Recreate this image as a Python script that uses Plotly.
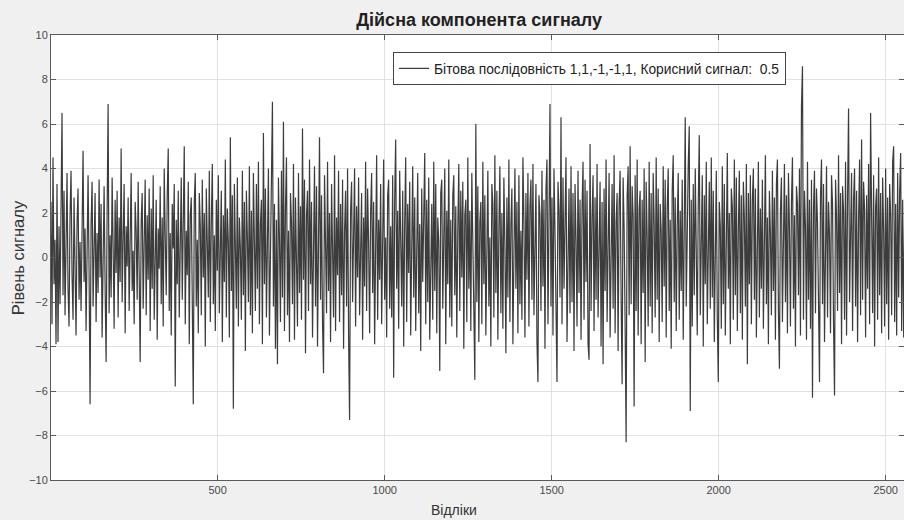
import plotly.graph_objects as go

# Signal level, in tenths, one value every 3 samples
seg_a = [25, -30, 45, -12, 8, -39, 33, -38, 14, -21,
         22, 65, -17, 30, -26, 9, 38, -14, -31, 19,
         39, -8, -28, 27, 4, -35, 16, 31, -19, 7,
         -24, 28, 48, -11, 13, -33, 21, 37, -6, -66,
         15, 34, -22, 6, 29, -29, 11, -16, 35, -9,
         24, -36, 17, 32, -13, -47, 20, 69, -25, 10,
         -18, 36, 5, -32, 26, -7, 30, -27, 18, -11,
         49, -20, 9, 33, -34, 14, -4, 27, -24, 21,
         38, -15, 3, -30, 25, 12, -19, 34, -8, -47,
         16, 29, -23, 8, 35, -26, 19, -10, 31, -33]
seg_b = [22, -14, 37, -28, 6, 26, -37, 13, -5, 32,
         -21, 18, -31, 40, 9, -17, 28, 49, -24, 11,
         -35, 24, 4, 33, -58, 17, -12, 30, -27, 7,
         36, -19, 21, 50, -30, 12, -8, 34, -39, 19,
         27, -13, -66, 25, 38, -22, 8, -34, 29, 14,
         -26, 35, -9, 20, -40, 31, 5, -18, 39, -29,
         16, 42, -21, 10, -33, 26, -6, 37, -25, 13,
         30, -38, 19, -11, 44, -27, 22, 7, -36, 54,
         -15, 28, -68, 33, 12, -23, 36, -31, 18, 4,
         -28, 39, -17, 25, -42, 30, 9, -20, 41, -26]
seg_c = [21, -34, 38, 6, -24, 33, -14, 43, -30, 15,
         26, -39, 56, -12, 31, -27, 18, 40, -35, 10,
         34, 70, -22, 24, -41, 17, -48, 36, 8, -29,
         39, -18, 61, -33, 22, 45, -26, 12, -38, 29,
         16, -21, 42, -37, 27, 5, -31, 38, -16, 23,
         -28, 58, -10, 35, -43, 19, 30, -24, 44, -12,
         25, -36, 14, 41, -22, 32, -40, 11, 54, -19,
         28, -30, -52, 37, 7, -25, 43, -15, 20, -38,
         33, 10, -27, 46, -33, 18, -8, 39, -29, 24,
         -17, 35, -41, 12, 30, -22, 40, -35, -73, 21]
seg_d = [34, -20, 15, 40, -31, 23, -9, 36, -26, 11,
         29, -37, 18, -13, 43, -24, 31, 6, -34, 20,
         38, -16, 25, -39, 12, 46, -28, 17, -10, 33,
         -30, 22, 44, -19, 9, -36, 28, 35, -23, 14,
         -27, 37, -54, 26, 53, -14, 21, -32, 39, 8,
         -22, 30, -40, 16, 45, -29, 24, -7, 34, -35,
         19, 41, -18, 27, -33, 12, 38, -25, 15, -42,
         31, -11, 22, 47, -30, 26, -20, 36, -37, 10,
         24, -28, 43, -15, 33, -34, 18, 7, -51, 29,
         35, -23, 14, 40, -39, 21, -12, 44, -27, 17]
seg_e = [-31, 28, 37, -17, 23, -36, 12, 42, -24, 30,
         -9, 34, -41, 19, 26, -29, 45, -14, 21, -33,
         38, 11, -26, -55, 60, -20, 32, -38, 16, 25,
         -30, 43, -12, 28, -35, 18, 39, -22, 9, -40,
         33, 24, -27, 46, -16, 30, -37, 13, 41, -25,
         20, -32, 36, 6, -43, 27, -18, 44, -29, 15,
         31, -39, 22, 40, -14, 25, -34, 37, -21, 12,
         -28, 45, 17, -36, 29, -10, 38, -31, 23, 35,
         -19, 42, -26, 14, 33, -38, -56, 28, 19, -24,
         39, -13, 26, -41, 31, 44, -30, 16, 69, -22]
seg_f = [27, -35, 40, 12, -27, -56, 34, 21, -18, 63,
         -30, 36, -14, 24, 45, -38, 17, 31, -25, 41,
         -20, 29, -42, 33, 8, -31, 39, -16, 26, -37,
         22, 43, -28, 35, -11, 30, -39, -46, 51, -24,
         18, 37, -33, 27, -19, 42, -27, 14, 34, -40,
         25, -48, 31, -15, 44, -29, 20, 38, -36, 11,
         33, -23, 46, -34, 16, 29, -42, 24, 39, -18,
         -57, 36, 13, -30, -83, 28, 41, -26, 50, -21,
         32, 18, -67, 37, -24, 44, -35, 22, 30, -39,
         26, -16, 40, -47, 34, 9, -31, 43, -22, 29]
seg_g = [-34, 38, 15, -27, 45, -19, 31, -38, 24, 12,
         -29, 41, -13, 35, -36, 22, 40, -24, 17, -41,
         30, 46, -20, 27, -33, 14, 38, -28, 21, -15,
         35, -37, 29, 63, -22, 18, 42, 59, -69, 26,
         -31, 33, -17, 40, 11, -35, 24, 55, -26, 19,
         37, -40, 28, -12, 43, -30, 16, 34, -23, 45,
         -18, 30, -38, 22, 39, -27, -56, 25, 14, -32,
         41, -21, 33, -35, 27, 47, -14, 20, -39, 31,
         23, -28, 44, -17, 36, -33, 12, 39, -25, 28,
         -37, 34, 18, -22, 42, -48, 29, -12, 37, -30]
seg_h = [26, 40, -19, 31, -36, 15, 43, -27, 22, -14,
         35, -32, 24, 46, -21, 18, -39, 30, 11, -26,
         39, -15, 27, -37, 33, 44, -24, -50, 21, 36,
         -29, 17, 42, -20, 28, -34, 38, 13, -31, 25,
         45, -23, 19, -40, 32, 24, -17, 40, -35, 68,
         86, -28, 30, 14, -37, 43, -19, 26, -32, 35,
         -63, 22, 39, -25, 31, 16, -36, -56, 28, 44,
         -21, 33, -38, 19, 41, -27, 25, 10, -34, 37,
         24, -30, -62, 35, 18, -24, 46, -16, 29, -39,
         32, 21, -28, 43, -35, 27, 67, -20, 15, 38]
seg_i = [-33, 26, 40, -22, 30, -38, 17, 44, -26, 53,
         -19, 34, 21, -36, 28, -14, 42, -30, 65, 18,
         -25, 37, -40, 23, 31, -28, 45, -17, 29, -34,
         36, 12, -31, 40, -21, 27, -37, 33, 19, -26,
         43, 50, -29, 24, -35, 38, -18, 30, 47, -33,
         26, -36, 21]

x_ticks = [500, 1000, 1500, 2000, 2500]
y_ticks = [-10, -8, -6, -4, -2, 0, 2, 4, 6, 8, 10]

title_text = "Дійсна компонента сигналу"
x_title = "Відліки"
y_title = "Рівень сигналу"
legend_name = "Бітова послідовність 1,1,-1,-1,1, Корисний сигнал:  0.5"

tenths = seg_a + seg_b + seg_c + seg_d + seg_e + seg_f + seg_g + seg_h + seg_i
level = [v / 10 for v in tenths]
samples = [1 + 3 * k for k in range(len(level))]

fig = go.Figure()
fig.add_trace(go.Scatter(
    x=samples, y=level, mode="lines", name=legend_name,
    line=dict(color="#3c3c3c", width=1.2),
    showlegend=True,
))

axis_style = dict(
    showline=True, linecolor="#5a5a5a", linewidth=1, mirror="ticks",
    ticks="inside", ticklen=5, tickcolor="#5a5a5a",
    showgrid=True, gridcolor="#e2e2e2", gridwidth=1, zeroline=False,
    automargin=False,
    tickfont=dict(family="Liberation Sans, Arial, sans-serif", size=11, color="#4a4a4a"),
)

fig.update_layout(
    width=904, height=520,
    paper_bgcolor="#f0f0f0", plot_bgcolor="#ffffff",
    margin=dict(l=51, r=0, t=35, b=40, autoexpand=False),
    font=dict(family="Liberation Sans, Arial, sans-serif", color="#222222"),
    title=dict(text="<b>" + title_text + "</b>", x=0.53, xanchor="center",
               y=1 - 20 / 520, yanchor="middle", yref="container",
               font=dict(size=18, color="#222222")),
    xaxis=dict(range=[1, 2555], tickvals=x_ticks, **axis_style),
    yaxis=dict(range=[-10, 10], tickvals=y_ticks, **axis_style),
    legend=dict(x=0.401, y=0.962, xanchor="left", yanchor="top",
                bgcolor="#ffffff", bordercolor="#444444", borderwidth=1,
                font=dict(size=13.8, color="#222222"),
                itemwidth=30, tracegroupgap=0),
    annotations=[
        dict(text=x_title, xref="paper", yref="paper", x=0.473, y=-0.067,
             xanchor="center", yanchor="middle", showarrow=False,
             font=dict(size=14, color="#333333")),
        dict(text=y_title, xref="paper", yref="paper", x=-0.039, y=0.5,
             xanchor="center", yanchor="middle", showarrow=False, textangle=-90,
             font=dict(size=16.5, color="#333333")),
    ],
)

fig.write_html("out.html",
               config={"displayModeBar": False},
               post_script="document.body.style.margin='0';document.body.style.overflow='hidden';")
